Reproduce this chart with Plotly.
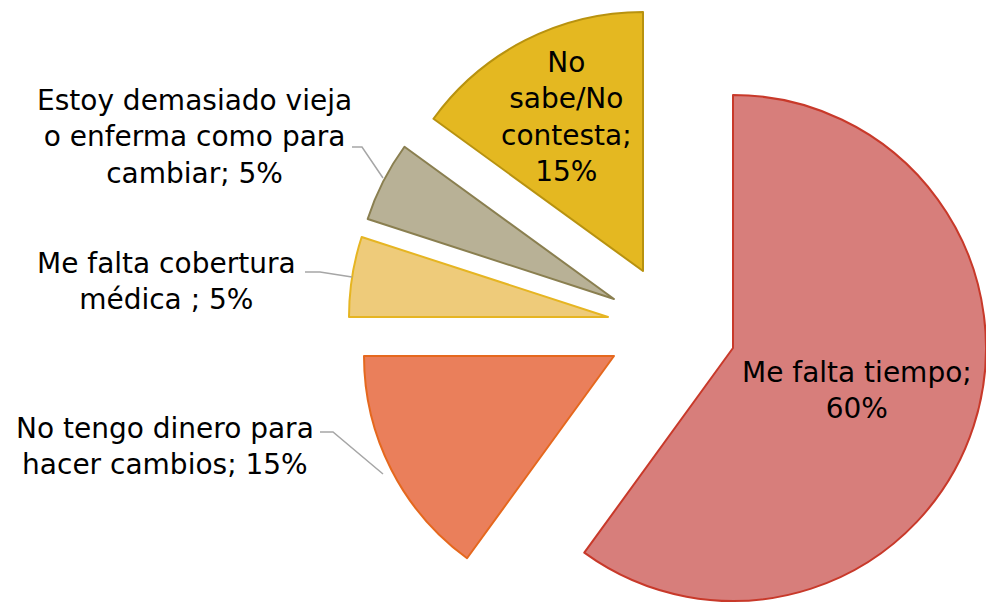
import plotly.graph_objects as go

# ---------------- data ----------------
categories = [
    "Me falta tiempo",
    "No tengo dinero para hacer cambios",
    "Me falta cobertura médica ",
    "Estoy demasiado vieja o enferma como para cambiar",
    "No sabe/No contesta",
]
values = [60, 15, 5, 5, 15]

# display wrapping of each category label (line breaks only)
wrapped_labels = [
    "Me falta tiempo",
    "No tengo dinero para<br>hacer cambios",
    "Me falta cobertura<br>médica ",
    "Estoy demasiado vieja<br>o enferma como para<br>cambiar",
    "No<br>sabe/No<br>contesta",
]
value_separators = ["<br>", " ", " ", " ", "<br>"]

# ---------------- styles ----------------
fill_colors = ["#D77E7B", "#EA7F5B", "#EECB7A", "#B8B196", "#E4B821"]
line_colors = ["#C8392A", "#E5681E", "#E6B522", "#8A7F50", "#B8920F"]

W, H = 986, 606
FONT = "DejaVu Sans"
FONT_SIZE = 28

# exploded slice apex positions (pixels) and target radius
apex_px = [(733, 348), (614, 356), (608, 317), (614, 299), (643, 271)]
target_r = 259

# label anchor positions (pixels, block centre)
label_px = [(857, 390), (165, 446), (166, 281), (194, 137), (566, 117)]

# leader lines (pixels) for outside labels
leaders_px = [
    None,
    [(320, 432), (333, 432), (383, 474)],
    [(305, 272), (320, 272), (352, 277)],
    [(352, 147), (362, 147), (383, 178)],
    None,
]


def fx(x):
    return x / W


def fy(y):
    return 1 - y / H


fig = go.Figure()
n = len(values)
for i in range(n):
    ax, ay = apex_px[i]
    r = min(target_r, ax, W - ax, ay, H - ay)
    colors = ["rgba(0,0,0,0)"] * n
    lcolors = ["rgba(0,0,0,0)"] * n
    lwidths = [0] * n
    colors[i] = fill_colors[i]
    lcolors[i] = line_colors[i]
    lwidths[i] = 2
    fig.add_trace(go.Pie(
        labels=categories,
        values=values,
        sort=False,
        direction="clockwise",
        rotation=0,
        textinfo="none",
        hoverinfo="label+percent",
        showlegend=False,
        marker=dict(colors=colors, line=dict(color=lcolors, width=lwidths)),
        domain=dict(
            x=[max(0, (ax - r) / W), min(1, (ax + r) / W)],
            y=[max(0, (H - ay - r) / H), min(1, (H - ay + r) / H)],
        ),
    ))

annotations = []
for i in range(n):
    x, y = label_px[i]
    annotations.append(dict(
        x=fx(x), y=fy(y), xref="paper", yref="paper",
        text=f"{wrapped_labels[i]};{value_separators[i]}{values[i]}%",
        showarrow=False, xanchor="center", yanchor="middle", align="center",
        font=dict(family=FONT, size=FONT_SIZE, color="#000000"),
    ))

shapes = []
for pts in leaders_px:
    if pts is None:
        continue
    path = "M " + " L ".join(f"{fx(px)},{fy(py)}" for px, py in pts)
    shapes.append(dict(type="path", xref="paper", yref="paper", path=path,
                       line=dict(color="#A6A6A6", width=1.5)))

fig.update_layout(
    width=W, height=H,
    margin=dict(l=0, r=0, t=0, b=0),
    paper_bgcolor="white", plot_bgcolor="white",
    annotations=annotations, shapes=shapes,
    font=dict(family=FONT, size=FONT_SIZE),
)

fig.write_html(
    "out.html",
    config={"displayModeBar": False},
    post_script="document.body.style.margin='0px';document.body.style.overflow='hidden';",
)
